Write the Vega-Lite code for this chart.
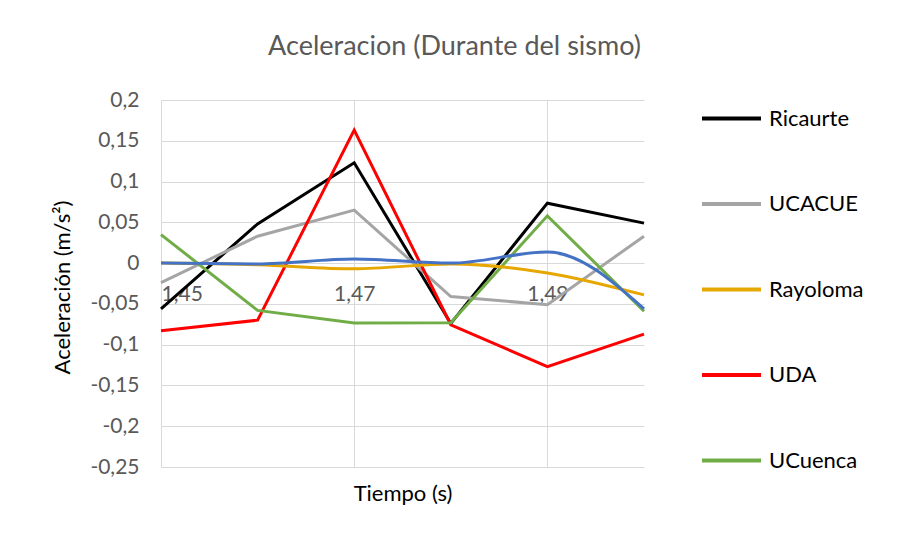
{
  "$schema": "https://vega.github.io/schema/vega-lite/v6.json",
  "width": 483,
  "height": 367,
  "autosize": "none",
  "padding": {"left": 161, "top": 100, "right": 253, "bottom": 75},
  "background": "white",
  "title": {
    "text": "Aceleracion (Durante del sismo)",
    "font": "Lato",
    "fontSize": 27,
    "fontWeight": "normal",
    "color": "#595959",
    "anchor": "middle",
    "dx": 52,
    "offset": 26
  },
  "data": {
    "values": [
      {"t": 1.45, "serie": "Ricaurte", "a": -0.056},
      {"t": 1.46, "serie": "Ricaurte", "a": 0.048},
      {"t": 1.47, "serie": "Ricaurte", "a": 0.123},
      {"t": 1.48, "serie": "Ricaurte", "a": -0.074},
      {"t": 1.49, "serie": "Ricaurte", "a": 0.0735},
      {"t": 1.50, "serie": "Ricaurte", "a": 0.049},
      {"t": 1.45, "serie": "UCACUE", "a": -0.024},
      {"t": 1.46, "serie": "UCACUE", "a": 0.033},
      {"t": 1.47, "serie": "UCACUE", "a": 0.065},
      {"t": 1.48, "serie": "UCACUE", "a": -0.041},
      {"t": 1.49, "serie": "UCACUE", "a": -0.051},
      {"t": 1.50, "serie": "UCACUE", "a": 0.033},
      {"t": 1.45, "serie": "UDA", "a": -0.083},
      {"t": 1.46, "serie": "UDA", "a": -0.07},
      {"t": 1.47, "serie": "UDA", "a": 0.163},
      {"t": 1.48, "serie": "UDA", "a": -0.0756},
      {"t": 1.49, "serie": "UDA", "a": -0.127},
      {"t": 1.50, "serie": "UDA", "a": -0.087},
      {"t": 1.45, "serie": "UCuenca", "a": 0.035},
      {"t": 1.46, "serie": "UCuenca", "a": -0.058},
      {"t": 1.47, "serie": "UCuenca", "a": -0.0735},
      {"t": 1.48, "serie": "UCuenca", "a": -0.073},
      {"t": 1.49, "serie": "UCuenca", "a": 0.058},
      {"t": 1.50, "serie": "UCuenca", "a": -0.059},
      {"t": 1.45, "serie": "Rayoloma", "a": 0.0},
      {"t": 1.46, "serie": "Rayoloma", "a": -0.002},
      {"t": 1.47, "serie": "Rayoloma", "a": -0.007},
      {"t": 1.48, "serie": "Rayoloma", "a": -0.001},
      {"t": 1.49, "serie": "Rayoloma", "a": -0.012},
      {"t": 1.50, "serie": "Rayoloma", "a": -0.039},
      {"t": 1.45, "serie": "Serie6", "a": 0.0},
      {"t": 1.46, "serie": "Serie6", "a": -0.001},
      {"t": 1.47, "serie": "Serie6", "a": 0.005},
      {"t": 1.48, "serie": "Serie6", "a": 0.0},
      {"t": 1.49, "serie": "Serie6", "a": 0.0135},
      {"t": 1.50, "serie": "Serie6", "a": -0.056}
    ]
  },
  "encoding": {
    "x": {
      "field": "t",
      "type": "quantitative",
      "scale": {"domain": [1.45, 1.5], "nice": false, "zero": false},
      "axis": {
        "title": "Tiempo (s)",
        "values": [1.45, 1.47, 1.49],
        "labelExpr": "replace(format(datum.value, '.2f'), '.', ',')",
        "offset": -204,
        "domain": false,
        "ticks": false,
        "tickSize": 0,
        "labelPadding": 20,
        "labelFont": "Lato",
        "labelFontSize": 21,
        "labelColor": "#595959",
        "grid": true,
        "gridColor": "#d9d9d9",
        "gridWidth": 1,
        "titleFont": "Lato",
        "titleFontSize": 22,
        "titleFontWeight": "normal",
        "titleColor": "#000000",
        "titleBaseline": "alphabetic",
        "titleY": 237
      }
    },
    "y": {
      "field": "a",
      "type": "quantitative",
      "scale": {"domain": [-0.25, 0.2], "nice": false, "zero": false},
      "axis": {
        "title": "Aceleración (m/s²)",
        "values": [-0.25, -0.2, -0.15, -0.1, -0.05, 0, 0.05, 0.1, 0.15, 0.2],
        "labelExpr": "replace(replace(format(datum.value, '.2~f'), '.', ','), '−', '-')",
        "domain": false,
        "ticks": false,
        "tickSize": 0,
        "labelPadding": 22,
        "labelFont": "Lato",
        "labelFontSize": 21,
        "labelColor": "#595959",
        "grid": true,
        "gridColor": "#d9d9d9",
        "gridWidth": 1,
        "titleFont": "Lato",
        "titleFontSize": 22,
        "titleFontWeight": "normal",
        "titleColor": "#000000",
        "titleAngle": -90,
        "titleAlign": "center",
        "titleBaseline": "middle",
        "titleX": -99,
        "titleY": 187
      }
    },
    "color": {
      "field": "serie",
      "type": "nominal",
      "scale": {
        "domain": ["Ricaurte", "UCACUE", "Rayoloma", "UDA", "UCuenca", "Serie6"],
        "range": ["#000000", "#a5a5a5", "#e6a700", "#ff0000", "#70ad47", "#4472c4"]
      },
      "legend": {
        "title": null,
        "values": ["Ricaurte", "UCACUE", "Rayoloma", "UDA", "UCuenca"],
        "orient": "none",
        "legendX": 539,
        "legendY": -13,
        "symbolType": "stroke",
        "symbolSize": 3481,
        "symbolStrokeWidth": 4,
        "labelFont": "Lato",
        "labelFontSize": 22,
        "labelColor": "#000000",
        "labelOffset": 6,
        "rowPadding": 42.5,
        "labelLimit": 200
      }
    }
  },
  "layer": [
    {
      "transform": [{"filter": "datum.serie != 'Rayoloma' && datum.serie != 'Serie6'"}],
      "mark": {"type": "line", "strokeWidth": 3, "interpolate": "linear"}
    },
    {
      "transform": [{"filter": "datum.serie == 'Rayoloma' || datum.serie == 'Serie6'"}],
      "mark": {"type": "line", "strokeWidth": 3, "interpolate": "monotone"}
    }
  ],
  "config": {
    "view": {"stroke": null}
  }
}
